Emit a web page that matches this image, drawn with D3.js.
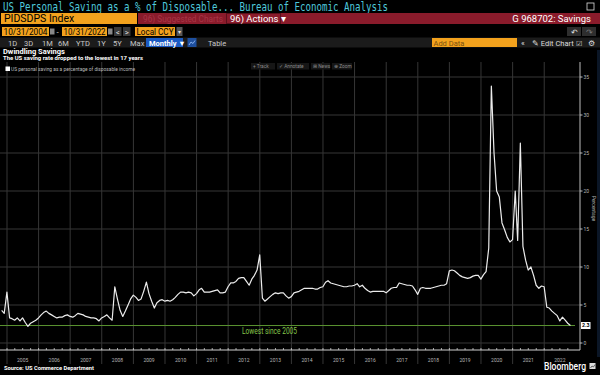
<!DOCTYPE html>
<html>
<head>
<meta charset="utf-8">
<script src="https://cdn.jsdelivr.net/npm/d3@7"></script>
<style>
  body { margin: 0; background: #000; }
  svg { display: block; }
  text { font-family: Roboto, "Noto Sans", sans-serif; }
</style>
</head>
<body>
<div id="chartContainer"></div>
<script>
const width = 600;
const height = 375;

// monthly saving rate, Oct 2004 .. Oct 2022
const startYear = 2004;
const startMonth = 9; // October
const savingRate = [
  4.3, 3.9, 6.7,
  3.3, 3.2, 3.0, 3.3, 2.9, 3.3, 2.7, 2.2, 2.6, 2.8, 3.0, 3.3,
  3.7, 4.0, 4.2, 3.9, 3.7, 3.5, 3.3, 3.4, 3.4, 3.6, 3.7, 3.5,
  3.4, 3.6, 3.9, 3.8, 3.7, 3.5, 3.4, 3.3, 3.3, 3.2, 2.9, 3.3,
  3.5, 3.7, 3.3, 3.0, 7.4, 5.8, 4.3, 3.5, 4.2, 5.0, 5.8, 6.3,
  6.0, 5.6, 5.8, 6.8, 8.0, 6.5, 5.5, 4.6, 5.3, 5.6, 5.7, 5.5,
  5.6, 5.5, 5.7, 6.0, 6.4, 6.7, 6.7, 6.6, 6.7, 6.6, 6.2, 6.5,
  7.0, 7.2, 6.7, 6.7, 6.7, 6.8, 6.9, 7.0, 6.6, 6.6, 6.7, 7.4,
  7.9, 7.9, 8.1, 8.5, 8.6, 8.6, 8.1, 7.6, 8.4, 8.9, 9.6, 11.6,
  5.9, 5.5, 5.8, 6.1, 6.4, 6.6, 6.5, 6.6, 6.6, 6.2, 5.9, 6.1,
  6.6, 6.7, 6.8, 7.0, 7.2, 7.2, 7.2, 7.2, 7.1, 7.1, 7.3, 7.4,
  8.0, 8.2, 7.9, 7.8, 7.7, 7.6, 7.5, 7.4, 7.4, 7.5, 7.5, 7.6,
  7.8, 7.4, 7.6, 7.2, 6.9, 6.7, 6.8, 6.8, 6.8, 6.8, 6.8, 6.6,
  6.9, 7.2, 7.3, 7.3, 7.9, 7.8, 7.7, 7.6, 7.6, 7.5, 7.0, 6.4,
  7.2, 7.3, 7.2, 7.2, 7.2, 7.3, 7.4, 7.5, 7.6, 7.6, 7.8, 9.5,
  9.6, 9.5, 9.2, 8.9, 8.7, 8.6, 8.5, 8.6, 8.8, 8.9, 8.9, 8.4,
  9.0, 9.4, 12.5, 33.8, 25.0, 20.0, 19.2, 15.8, 14.9, 13.9, 13.3, 13.6,
  20.0, 13.5, 26.3, 12.7, 10.9, 9.6, 10.0, 8.9, 7.6, 7.2, 7.5, 7.4,
  4.7, 4.6, 4.2, 3.9, 3.6, 2.9, 3.4, 3.0, 2.6, 2.3
];
const yearLabels = [2005, 2006, 2007, 2008, 2009, 2010, 2011, 2012, 2013, 2014, 2015, 2016, 2017, 2018, 2019, 2020, 2021, 2022];
const yTicks = [0, 5, 10, 15, 20, 25, 30, 35];
const lowestLevel = 2.3;
const lastValue = 2.3;

const rangeButtons = ["1D", "3D", "1M", "6M", "YTD", "1Y", "5Y", "Max"];
const rangeButtonX = [8, 24, 42, 58, 76, 97, 113, 130];

// values are plotted at month end, like the terminal does
const data = savingRate.map((v, i) => ({
  date: new Date(startYear, startMonth + i + 1, 0),
  value: v
}));

const svg = d3.select("#chartContainer")
  .append("svg")
  .attr("width", width)
  .attr("height", height);

svg.append("rect").attr("width", width).attr("height", height).attr("fill", "#000");

// ---------- header bars ----------
svg.append("text")
  .attr("x", 3).attr("y", 10.5)
  .attr("fill", "#4fc9dc")
  .style("font-family", "'DejaVu Sans Mono', monospace")
  .style("font-size", "11.5px")
  .attr("textLength", 385).attr("lengthAdjust", "spacingAndGlyphs")
  .text("US Personal Saving as a % of Disposable...  Bureau of Economic Analysis");

// little icon top right
svg.append("rect").attr("x", 587).attr("y", 3).attr("width", 7).attr("height", 7)
  .attr("fill", "none").attr("stroke", "#ddd").attr("stroke-width", 0.8);

svg.append("rect").attr("x", 1).attr("y", 13).attr("width", 136).attr("height", 11).attr("fill", "#f3a21d");
svg.append("text").attr("x", 4).attr("y", 22.3).attr("fill", "#000")
  .style("font-size", "10.5px").text("PIDSDPS Index");
svg.append("rect").attr("x", 138).attr("y", 13).attr("width", 462).attr("height", 11).attr("fill", "#8a1b2b");
svg.append("text").attr("x", 143).attr("y", 22).attr("fill", "#a83546")
  .style("font-size", "9.5px").attr("textLength", 80).attr("lengthAdjust", "spacingAndGlyphs")
  .text("96) Suggested Charts");
svg.append("rect").attr("x", 226.5).attr("y", 13.5).attr("width", 54).attr("height", 10)
  .attr("fill", "#8a1b2b").attr("stroke", "#5a0f1a").attr("stroke-width", 1);
svg.append("text").attr("x", 230).attr("y", 22).attr("fill", "#fff")
  .style("font-size", "9.5px").text("96) Actions \u25BE");
svg.append("text").attr("x", 591).attr("y", 22).attr("fill", "#fff")
  .attr("text-anchor", "end").style("font-size", "9.5px").text("G 968702: Savings");

// date row
const dateBox = (x, w, label) => {
  svg.append("rect").attr("x", x).attr("y", 27).attr("width", w).attr("height", 9).attr("fill", "#f3a21d");
  svg.append("text").attr("x", x + 1.5).attr("y", 35).attr("fill", "#000")
    .style("font-size", "8.5px").attr("textLength", w - 3).attr("lengthAdjust", "spacingAndGlyphs").text(label);
};
dateBox(2, 47, "10/31/2004");
dateBox(62, 45, "10/31/2022");
dateBox(135, 40, "Local CCY");
[50, 108].forEach(x => {
  svg.append("rect").attr("x", x).attr("y", 28.5).attr("width", 4.5).attr("height", 6).attr("fill", "#888");
});
svg.append("text").attr("x", 56.5).attr("y", 35).attr("fill", "#ddd").style("font-size", "8px").text("-");
[[114, "<"], [123, ">"]].forEach(([x, s]) => {
  svg.append("rect").attr("x", x).attr("y", 27).attr("width", 7.5).attr("height", 9).attr("fill", "#3a3a3a");
  svg.append("text").attr("x", x + 3.75).attr("y", 34.5).attr("text-anchor", "middle")
    .attr("fill", "#ddd").style("font-size", "8px").text(s);
});
svg.append("rect").attr("x", 176.5).attr("y", 27).attr("width", 6).attr("height", 9).attr("fill", "#555");
svg.append("text").attr("x", 179.5).attr("y", 34).attr("text-anchor", "middle")
  .attr("fill", "#ddd").style("font-size", "6px").text("\u25BE");
[[567, "\u21B6"], [582, "\u21B7"]].forEach(([x, s], i) => {
  svg.append("rect").attr("x", x).attr("y", 27).attr("width", 14).attr("height", 9).attr("fill", "#2e2e2e");
  svg.append("text").attr("x", x + 7).attr("y", 34.5).attr("text-anchor", "middle")
    .attr("fill", i == 0 ? "#ddd" : "#777").style("font-size", "8px").text(s);
});

// range / toolbar row
svg.append("rect").attr("x", 0).attr("y", 37.5).attr("width", 600).attr("height", 10).attr("fill", "#1b1b1b");
rangeButtons.forEach((b, i) => {
  svg.append("text").attr("x", rangeButtonX[i]).attr("y", 45.5).attr("fill", "#c8c8c8")
    .style("font-size", "7.5px").text(b);
});
svg.append("rect").attr("x", 146).attr("y", 38).attr("width", 37).attr("height", 9).attr("fill", "#1c5bc3");
svg.append("text").attr("x", 149).attr("y", 45.5).attr("fill", "#fff")
  .style("font-size", "7.5px").style("font-weight", "bold").text("Monthly \u25BC");
svg.append("rect").attr("x", 187.5).attr("y", 38).attr("width", 9).attr("height", 9).attr("fill", "#1e4f9e");
svg.append("path").attr("d", "M189,45 L191,42 L193,43.5 L195,40.5").attr("fill", "none")
  .attr("stroke", "#9cc4ff").attr("stroke-width", 0.8);
svg.append("text").attr("x", 208).attr("y", 45.5).attr("fill", "#c8c8c8").style("font-size", "7.5px").text("Table");

svg.append("rect").attr("x", 432).attr("y", 38).attr("width", 85).attr("height", 9).attr("fill", "#f3a21d");
svg.append("text").attr("x", 433.5).attr("y", 45.5).attr("fill", "#7a5010").style("font-size", "7.5px").text("Add Data");
svg.append("text").attr("x", 521).attr("y", 45.5).attr("fill", "#ddd").style("font-size", "8px").text("\u00AB");
svg.append("text").attr("x", 532).attr("y", 45.5).attr("fill", "#ddd").style("font-size", "7.5px").text("\u270E Edit Chart");
svg.append("text").attr("x", 576).attr("y", 45.5).attr("fill", "#ddd").style("font-size", "7px").text("\u2611");
svg.append("text").attr("x", 588).attr("y", 45.8).attr("fill", "#ddd").style("font-size", "8px").text("\u2699");

// titles
svg.append("text").attr("x", 3).attr("y", 53.5).attr("fill", "#fff")
  .style("font-size", "7.5px").style("font-weight", "bold").text("Dwindling Savings");
svg.append("text").attr("x", 3).attr("y", 60).attr("fill", "#fff")
  .style("font-size", "5.5px").style("font-weight", "bold")
  .attr("textLength", 140).attr("lengthAdjust", "spacingAndGlyphs")
  .text("The US saving rate dropped to the lowest in 17 years");

// ---------- chart ----------
const x = d3.scaleTime()
  .domain([new Date(2005, 0, 1), new Date(2023, 0, 1)])
  .range([7, 575.8]);
const y = d3.scaleLinear()
  .domain([0, 35])
  .range([343, 77]);

const plotLeft = 0, plotRight = 580, plotTop = 62, axisY = 350;
const gridColor = "#363636";

// horizontal grid
svg.append("g").selectAll("line").data(yTicks).join("line")
  .attr("x1", plotLeft).attr("x2", plotRight)
  .attr("y1", d => y(d)).attr("y2", d => y(d))
  .attr("stroke", gridColor).attr("stroke-width", 1);

// vertical grid at year boundaries, running through the date axis
svg.append("g").selectAll("line").data(yearLabels).join("line")
  .attr("x1", d => x(new Date(d, 0, 1))).attr("x2", d => x(new Date(d, 0, 1)))
  .attr("y1", plotTop).attr("y2", 364)
  .attr("stroke", gridColor).attr("stroke-width", 1);

// legend
svg.append("rect").attr("x", 5.5).attr("y", 66.5).attr("width", 4.5).attr("height", 4.5).attr("fill", "#fff");
svg.append("text").attr("x", 11).attr("y", 70.8).attr("fill", "#bbb")
  .style("font-size", "5.5px").attr("textLength", 124).attr("lengthAdjust", "spacingAndGlyphs")
  .text("US personal saving as a percentage of disposable income");

// track / annotate strip
const tools = [["+ Track", 251, 24], ["\u2713 Annotate", 277, 32], ["\u229E News", 311, 19], ["\u2295 Zoom", 332, 20]];
tools.forEach(([t, tx, w]) => {
  svg.append("rect").attr("x", tx).attr("y", 63).attr("width", w).attr("height", 6.5).attr("fill", "#161616");
  svg.append("text").attr("x", tx + 2).attr("y", 68.2).attr("fill", "#8a8a8a")
    .style("font-size", "4.8px").text(t);
});

// lowest-since line
svg.append("line")
  .attr("x1", plotLeft).attr("x2", 575)
  .attr("y1", y(lowestLevel)).attr("y2", y(lowestLevel))
  .attr("stroke", "#5a9330").attr("stroke-width", 1);
svg.append("text").attr("x", 242).attr("y", 333.5).attr("fill", "#86c64a")
  .style("font-size", "8.5px").attr("textLength", 55).attr("lengthAdjust", "spacingAndGlyphs")
  .text("Lowest since 2005");

// series
const line = d3.line()
  .x(d => x(d.date))
  .y(d => y(d.value));
svg.append("path")
  .datum(data)
  .attr("fill", "none")
  .attr("stroke", "#ececec")
  .attr("stroke-width", 1.2)
  .attr("stroke-linejoin", "round")
  .attr("d", line);

// bottom axis
svg.append("line").attr("x1", 0).attr("x2", plotRight).attr("y1", axisY).attr("y2", axisY)
  .attr("stroke", "#cfcfcf").attr("stroke-width", 1);
const quarterTicks = d3.timeMonth.every(3).range(new Date(2004, 9, 1), new Date(2023, 0, 1));
svg.append("g").selectAll("line").data(quarterTicks).join("line")
  .attr("x1", d => x(d)).attr("x2", d => x(d))
  .attr("y1", axisY - 2).attr("y2", axisY)
  .attr("stroke", "#cfcfcf").attr("stroke-width", 0.8);
svg.append("g").selectAll("text").data(yearLabels).join("text")
  .attr("x", d => x(new Date(d, 6, 1)))
  .attr("y", 361.5)
  .attr("text-anchor", "middle")
  .attr("fill", "#b5b5b5")
  .style("font-size", "5px")
  .text(d => d);

// right axis
svg.append("line").attr("x1", plotRight).attr("x2", plotRight).attr("y1", plotTop).attr("y2", axisY)
  .attr("stroke", "#bdbdbd").attr("stroke-width", 1);
svg.append("g").selectAll("line").data(yTicks).join("line")
  .attr("x1", plotRight).attr("x2", plotRight + 2.5)
  .attr("y1", d => y(d)).attr("y2", d => y(d))
  .attr("stroke", "#bdbdbd");
svg.append("g").selectAll("text").data(yTicks).join("text")
  .attr("x", plotRight + 3.5).attr("y", d => y(d) + 1.8)
  .attr("fill", "#b5b5b5").style("font-size", "5px")
  .text(d => d);
svg.append("text")
  .attr("transform", `translate(591.5, ${y(17.7)}) rotate(90)`)
  .attr("text-anchor", "middle")
  .attr("fill", "#b5b5b5").style("font-size", "5px")
  .text("Percentage");

// last value tag
svg.append("rect").attr("x", 581).attr("y", y(lastValue) - 3.5).attr("width", 9.5).attr("height", 7)
  .attr("fill", "#fff");
svg.append("text").attr("x", 585.7).attr("y", y(lastValue) + 1.8).attr("text-anchor", "middle")
  .attr("fill", "#000").style("font-size", "5.3px").style("font-weight", "bold").text(lastValue.toFixed(1));

// right edge strip
svg.append("rect").attr("x", 597).attr("y", 50).attr("width", 3).attr("height", 307).attr("fill", "#0b1626");

// footer
svg.append("text").attr("x", 4).attr("y", 369.5).attr("fill", "#fff")
  .style("font-size", "5.5px").style("font-weight", "bold")
  .attr("textLength", 90).attr("lengthAdjust", "spacingAndGlyphs")
  .text("Source: US Commerce Department");
svg.append("text").attr("x", 544).attr("y", 370).attr("fill", "#fff")
  .style("font-size", "10px").style("font-weight", "500")
  .attr("textLength", 42).attr("lengthAdjust", "spacingAndGlyphs")
  .text("Bloomberg");
svg.append("rect").attr("x", 589.5).attr("y", 363).attr("width", 6).attr("height", 6).attr("fill", "#ddd");
svg.append("path").attr("d", "M590.5,368 L592,366 L593.5,367 L595,364.5").attr("fill", "none")
  .attr("stroke", "#333").attr("stroke-width", 0.7);
</script>
</body>
</html>
